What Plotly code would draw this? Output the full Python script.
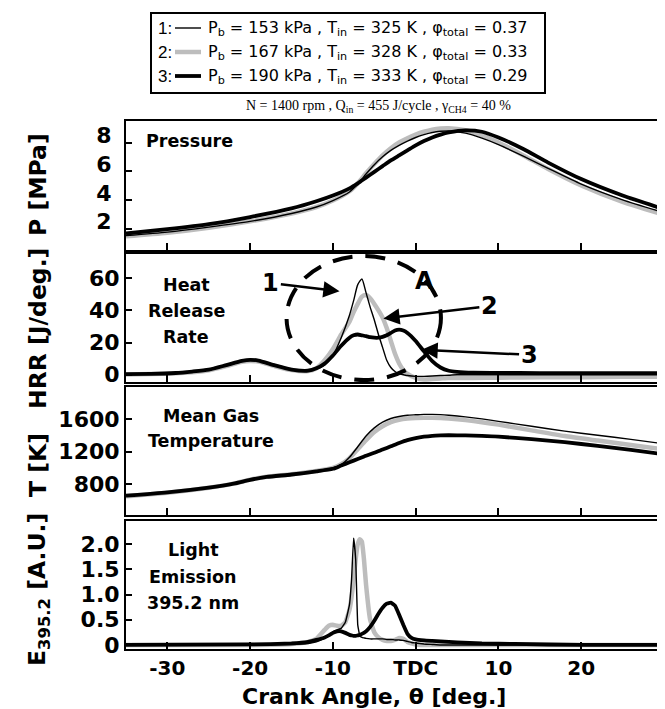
import plotly.graph_objects as go

# ---------------- data ----------------
theta_p = [-35, -30, -25, -20, -15, -12, -10, -8, -7, -6, -5, -4, -3, -2, -1, 0, 1, 2, 3, 4, 6, 8, 10, 13, 16, 20, 25, 30]
p_case1 = [1.5, 1.75, 2.1, 2.5, 3.05, 3.5, 3.95, 4.55, 5.1, 5.8, 6.45, 7.0, 7.45, 7.8, 8.1, 8.35, 8.55, 8.7, 8.78, 8.8, 8.65, 8.3, 7.85, 7.05, 6.2, 5.1, 4.0, 3.1]
p_case2 = [1.45, 1.7, 2.05, 2.5, 3.05, 3.5, 3.95, 4.6, 5.15, 5.85, 6.5, 7.1, 7.6, 8.0, 8.3, 8.55, 8.75, 8.9, 8.98, 9.0, 8.85, 8.5, 8.0, 7.1, 6.15, 5.0, 3.85, 2.95]
p_case3 = [1.65, 1.95, 2.3, 2.8, 3.4, 3.9, 4.3, 4.8, 5.15, 5.55, 5.95, 6.35, 6.75, 7.1, 7.45, 7.8, 8.1, 8.35, 8.55, 8.7, 8.85, 8.75, 8.35, 7.55, 6.6, 5.45, 4.3, 3.35]

theta_h = [-35, -32, -29, -27, -25, -23, -21, -20, -19, -17, -15, -13, -12, -11, -10, -9, -8, -7.5, -7, -6.5, -6, -5.5, -5, -4.5,
           -4, -3.5, -3, -2.5, -2, -1.5, -1, 0, 1, 2, 3, 4, 5, 7, 10, 15, 20, 25, 30]
hrr_case1 = [0.3, 0.5, 1.0, 1.8, 3.0, 5.5, 8.3, 9.0, 8.5, 5.5, 3.0, 2.3, 3.5, 6.0, 12.0, 23.0, 37.0, 46.0, 56.0, 59.5, 51.0, 42.0, 34.0, 25.0,
             17.0, 9.0, 4.5, 2.0, 0.5, 0.0, -0.5, -1.0, -1.0, -0.8, -0.5, -0.3, 0.0, 0.0, 0.0, 0.0, 0.0, 0.0, 0.0]
hrr_case2 = [0.2, 0.4, 0.9, 1.6, 2.8, 5.2, 8.0, 8.6, 8.2, 5.3, 2.9, 2.3, 4.0, 9.0, 16.0, 25.0, 33.0, 39.0, 44.0, 48.5, 49.5, 47.5, 44.0, 40.0,
             35.5, 29.0, 21.0, 13.0, 7.0, 3.0, 0.5, -2.0, -3.0, -2.6, -2.3, -2.0, -2.0, -2.0, -1.8, -1.5, -1.5, -1.3, -1.2]
hrr_case3 = [0.4, 0.6, 1.1, 2.0, 3.2, 5.8, 8.6, 9.3, 8.8, 5.8, 3.2, 2.5, 4.0, 7.0, 12.0, 18.0, 23.0, 24.5, 25.0, 24.5, 24.0, 23.3, 23.0, 23.0,
             23.5, 24.5, 26.0, 27.5, 28.0, 27.5, 26.0, 21.0, 14.5, 8.5, 4.5, 2.5, 1.8, 1.3, 1.2, 1.0, 1.0, 1.0, 1.0]

theta_t = [-35, -30, -25, -22, -20, -18, -15, -12, -10, -9, -8, -7, -6, -5, -4, -3, -2, -1, 0, 1, 2, 3, 4, 6, 8, 10, 14, 18, 22, 26, 30]
t_case1 = [660, 700, 760, 810, 860, 895, 925, 965, 1000, 1040, 1130, 1260, 1390, 1490, 1560, 1605, 1630, 1645, 1650, 1655, 1655, 1652,
           1645, 1625, 1600, 1570, 1510, 1450, 1400, 1350, 1295]
t_case2 = [655, 698, 758, 808, 858, 893, 923, 963, 1000, 1045, 1120, 1230, 1340, 1440, 1510, 1560, 1590, 1605, 1612, 1615, 1615, 1612,
           1605, 1585, 1560, 1530, 1460, 1390, 1335, 1280, 1228]
t_case3 = [662, 702, 760, 808, 855, 890, 920, 958, 990, 1030, 1070, 1110, 1150, 1185, 1225, 1265, 1305, 1340, 1365, 1382, 1393, 1398,
           1400, 1398, 1392, 1383, 1352, 1315, 1270, 1220, 1168]

theta_e = [-35, -20, -15, -13, -12, -11, -10.5, -10, -9.5, -9, -8.5, -8, -7.75, -7.5, -7.25, -7, -6.75, -6.5, -6.25, -6, -5.5, -5,
           -4.5, -4, -3.5, -3, -2.5, -2, -1.5, -1, -0.5, 0, 1, 2, 3, 5, 8, 12, 20, 30]
e_case1 = [0.0, 0.0, 0.01, 0.03, 0.06, 0.14, 0.2, 0.26, 0.3, 0.33, 0.45, 0.8, 1.3, 2.12, 1.7, 0.4, 0.18, 0.15, 0.14, 0.13, 0.12, 0.12,
           0.12, 0.12, 0.11, 0.11, 0.1, 0.1, 0.09, 0.07, 0.05, 0.04, 0.02, 0.01, 0.0, 0.0, 0.0, 0.0, 0.0, 0.0]
e_case2 = [0.0, 0.0, 0.02, 0.06, 0.12, 0.3, 0.38, 0.4, 0.38, 0.38, 0.45, 0.7, 0.95, 1.3, 1.7, 2.0, 2.1, 2.05, 1.7, 1.2, 0.5, 0.25,
           0.15, 0.1, 0.08, 0.08, 0.1, 0.14, 0.12, 0.06, 0.03, 0.01, 0.0, 0.0, 0.0, 0.0, 0.0, 0.0, 0.0, 0.0]
e_case3 = [0.0, 0.01, 0.03, 0.06, 0.1, 0.15, 0.19, 0.24, 0.27, 0.27, 0.24, 0.2, 0.19, 0.18, 0.18, 0.19, 0.2, 0.22, 0.24, 0.27, 0.36, 0.48,
           0.62, 0.74, 0.82, 0.84, 0.78, 0.6, 0.4, 0.22, 0.14, 0.11, 0.09, 0.08, 0.07, 0.05, 0.03, 0.02, 0.0, 0.0]

x_tickvals = [-30, -20, -10, 0, 10, 20]
x_ticktext = ["-30", "-20", "-10", "TDC", "10", "20"]

legend_labels = [
    "P<sub>b</sub> = 153 kPa , T<sub>in</sub> = 325 K , \u03c6<sub>total</sub> = 0.37",
    "P<sub>b</sub> = 167 kPa , T<sub>in</sub> = 328 K , \u03c6<sub>total</sub> = 0.33",
    "P<sub>b</sub> = 190 kPa , T<sub>in</sub> = 333 K , \u03c6<sub>total</sub> = 0.29",
]

# ---------------- styling ----------------
SANS = "Liberation Sans, Arial, sans-serif"
BOLD = "DejaVu Sans, sans-serif"
SERIF = "Liberation Serif, Times New Roman, serif"
GRAY = "#bdbdbd"
styles = {
    1: dict(color="black", width=1.4),
    2: dict(color=GRAY, width=4.5),
    3: dict(color="black", width=3.8),
}

panels = [
    (theta_p, {1: p_case1, 2: p_case2, 3: p_case3}),
    (theta_h, {1: hrr_case1, 2: hrr_case2, 3: hrr_case3}),
    (theta_t, {1: t_case1, 2: t_case2, 3: t_case3}),
    (theta_e, {1: e_case1, 2: e_case2, 3: e_case3}),
]

fig = go.Figure()
for k, (xs, ser) in enumerate(panels, start=1):
    for case in (2, 3, 1):
        fig.add_trace(go.Scatter(
            x=xs, y=ser[case], mode="lines",
            line=dict(color=styles[case]["color"], width=styles[case]["width"],
                      shape="spline", smoothing=0.6 if k != 4 else 0.3),
            xaxis="x" if k == 1 else f"x{k}", yaxis="y" if k == 1 else f"y{k}",
            showlegend=False, hoverinfo="skip"))

# plot area: left 118, right 656, top 113, bottom 641 (px)
W, H = 665, 709
L, R, T, B = 118, 9, 113, 68
PW, PH = W - L - R, H - T - B


def px_x(px):
    return (px - L) / PW


def px_y(py):
    return (H - B - py) / PH


domains = [(242, 113), (374, 246), (507, 379), (641, 513)]
yranges = [[0.5, 9.5], [-4.5, 75], [425, 1990], [-0.08, 2.46]]
ytickvals = [[2, 4, 6, 8], [0, 20, 40, 60], [800, 1200, 1600], [0, 0.5, 1.0, 1.5, 2.0]]
yticktext = [["2", "4", "6", "8"], ["0", "20", "40", "60"], ["800", "1200", "1600"], ["0", "0.5", "1.0", "1.5", "2.0"]]

layout = dict(
    width=W, height=H,
    margin=dict(l=L, r=R, t=T, b=B, autoexpand=False),
    paper_bgcolor="white", plot_bgcolor="white",
    font=dict(family=SANS, color="black"),
    showlegend=False,
)
for k in range(1, 5):
    sfx = "" if k == 1 else str(k)
    bot, top = domains[k - 1]
    layout[f"xaxis{sfx}"] = dict(
        domain=[0, 1], anchor=f"y{sfx}", range=[-35, 30], automargin=False,
        tickvals=x_tickvals, ticktext=x_ticktext,
        ticks="inside", ticklen=7, tickwidth=1.5, tickcolor="black",
        showline=True, linecolor="black", linewidth=2, mirror=True,
        showgrid=False, zeroline=False,
        showticklabels=(k == 4),
        tickfont=dict(family=BOLD, size=20, weight="bold", color="black"),
    )
    if k > 1:
        layout[f"xaxis{sfx}"]["matches"] = "x"
    layout[f"yaxis{sfx}"] = dict(
        domain=[px_y(bot), px_y(top)], anchor=f"x{sfx}", range=yranges[k - 1], automargin=False,
        tickvals=ytickvals[k - 1], ticktext=yticktext[k - 1],
        ticks="inside", ticklen=6, tickwidth=1.5, tickcolor="black",
        showline=True, linecolor="black", linewidth=2, mirror="ticks",
        showgrid=False, zeroline=False,
        tickfont=dict(family=BOLD, size=22, weight="bold", color="black"),
    )
layout["yaxis"]["ticklabelshift"] = -7
layout["yaxis"]["ticklabelstandoff"] = 8
fig.update_layout(**layout)

ann = []
# y-axis titles
for text, py in [("P [MPa]", 177), ("HRR [J/deg.]", 321), ("T [K]", 457), ("E<sub>395.2</sub> [A.U.]", 582)]:
    ann.append(dict(text=text, x=px_x(30), y=px_y(py), xref="paper", yref="paper", showarrow=False,
                    textangle=-90, xanchor="center", yanchor="middle",
                    font=dict(family=BOLD, size=23.5, weight="bold", color="black")))
# x-axis title
ann.append(dict(text="Crank Angle, \u03b8 [deg.]", x=px_x(366), y=px_y(688), xref="paper", yref="paper",
                showarrow=False, xanchor="center", yanchor="middle",
                font=dict(family=BOLD, size=22, weight="bold", color="black")))
# panel labels (one annotation per text line)
for text, cx, cy, anchor in [("Pressure", 136, 133, "left"),
                             ("Heat", 178, 277, "center"), ("Release", 178, 303, "center"), ("Rate", 178, 329, "center"),
                             ("Mean Gas", 203, 408, "center"), ("Temperature", 203, 433, "center"),
                             ("Light", 185, 542, "center"), ("Emission", 185, 569, "center"),
                             ("395.2 nm", 185, 595, "center")]:
    ann.append(dict(text=text, x=px_x(cx), y=px_y(cy), xref="paper", yref="paper", showarrow=False,
                    xanchor=anchor, yanchor="middle",
                    font=dict(family=BOLD, size=17.5, weight="bold", color="black")))
# curve labels with arrows in HRR panel
for text, tx, ty, hx, hy in [("1", -17.5, 57, -9.2, 51.8), ("2", 8.9, 42.6, -3.9, 35), ("3", 13.7, 12.4, 0.7, 15.5)]:
    ann.append(dict(text=text, x=hx, y=hy, ax=tx, ay=ty, xref="x2", yref="y2", axref="x2", ayref="y2",
                    showarrow=True, arrowhead=2, arrowsize=1.3, arrowwidth=2.5, arrowcolor="black",
                    font=dict(family=BOLD, size=24, weight="bold", color="black")))
ann.append(dict(text="A", x=1.1, y=58, xref="x2", yref="y2", showarrow=False,
                font=dict(family=BOLD, size=24, weight="bold", color="black")))
# condition line
ann.append(dict(text="N = 1400 rpm , Q<sub>in</sub> = 455 J/cycle , \u03b3<sub>CH4</sub> = 40 %",
                x=px_x(370), y=px_y(98), xref="paper", yref="paper", showarrow=False,
                xanchor="center", yanchor="middle", font=dict(family=SERIF, size=14, color="black")))

shapes = []
# dashed ellipse "A"
shapes.append(dict(type="circle", xref="x2", yref="y2", x0=-15.6, x1=3.05, y0=-3.3, y1=73.7,
                   line=dict(color="black", width=4, dash="20px,13px")))
# legend box
shapes.append(dict(type="rect", xref="paper", yref="paper", x0=px_x(143), x1=px_x(537), y0=px_y(85), y1=px_y(5),
                   line=dict(color="black", width=2), fillcolor="white", layer="above"))
for i, (case, py) in enumerate(zip((1, 2, 3), (20, 44, 68))):
    shapes.append(dict(type="line", xref="paper", yref="paper", x0=px_x(167), x1=px_x(193), y0=px_y(py), y1=px_y(py),
                       line=dict(color=styles[case]["color"], width=styles[case]["width"]), layer="above"))
    ann.append(dict(text=f"{case}:", x=px_x(148), y=px_y(py), xref="paper", yref="paper", showarrow=False,
                    xanchor="left", yanchor="middle", font=dict(family=SANS, size=17, color="black")))
    ann.append(dict(text=legend_labels[i], x=px_x(198), y=px_y(py), xref="paper", yref="paper", showarrow=False,
                    xanchor="left", yanchor="middle", font=dict(family="DejaVu Sans, sans-serif", size=16, color="black")))

fig.update_layout(annotations=ann, shapes=shapes)
fig.write_html("out.html")
